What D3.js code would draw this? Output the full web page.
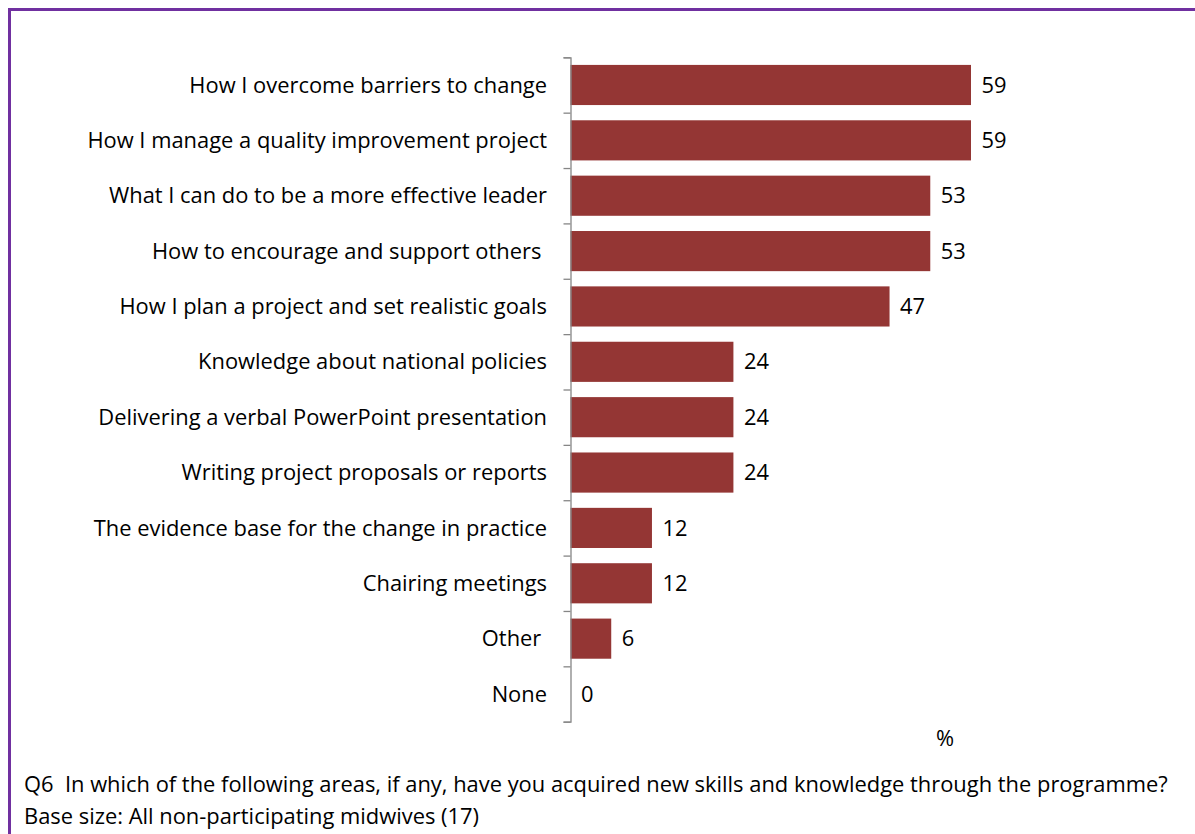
<!DOCTYPE html>
<html>
<head>
<meta charset="utf-8">
<script src="https://cdn.jsdelivr.net/npm/d3@7"></script>
<style>
  html, body { margin: 0; padding: 0; background: #fff; }
  svg { display: block; }
  text { font-family: "Open Sans", Lato, sans-serif; fill: #000; }
</style>
</head>
<body>
<svg id="chart" width="1195" height="834"></svg>
<script>
// Skills acquired through the programme (% of respondents)
const categories = [
  "How I overcome barriers to change",
  "How I manage a quality improvement project",
  "What I can do to be a more effective leader",
  "How to encourage and support others ",
  "How I plan a project and set realistic goals",
  "Knowledge about national policies",
  "Delivering a verbal PowerPoint presentation",
  "Writing project proposals or reports",
  "The evidence base for the change in practice",
  "Chairing meetings",
  "Other ",
  "None"
];
const values = [59, 59, 53, 53, 47, 24, 24, 24, 12, 12, 6, 0];
const unitLabel = "%";
const footnotes = [
  "Q6  In which of the following areas, if any, have you acquired new skills and knowledge through the programme?",
  "Base size: All non-participating midwives (17)"
];

const svg = d3.select("#chart");
const barColor = "#943634";
const axisColor = "#868686";
const fontSize = 21.9;

// Purple frame (top and left edges visible, continuing off the canvas)
svg.append("rect")
  .attr("x", 9.5).attr("y", 9.5)
  .attr("width", 1300).attr("height", 1000)
  .attr("fill", "none")
  .attr("stroke", "#7030a0")
  .attr("stroke-width", 3);

const x0 = 570.5;
const plotTop = 57.3, plotBottom = 721.7;

const x = d3.scaleLinear().domain([0, 59]).range([x0, 971]);
const y = d3.scaleBand()
  .domain(categories)
  .range([plotTop, plotBottom])
  .paddingInner(0.275)
  .paddingOuter(0.1375);

// Tick marks sit on category boundaries
const yEdges = d3.scaleLinear().domain([0, categories.length]).range([plotTop, plotBottom]);

const g = svg.append("g");

g.selectAll("rect.bar")
  .data(values)
  .join("rect")
  .attr("class", "bar")
  .attr("x", x(0))
  .attr("y", (d, i) => y(categories[i]))
  .attr("width", d => x(d) - x(0))
  .attr("height", y.bandwidth())
  .attr("fill", barColor);

const axis = g.append("g")
  .attr("transform", `translate(${x0},0)`)
  .call(d3.axisLeft(yEdges)
    .tickValues(d3.range(categories.length + 1))
    .tickSize(7)
    .tickFormat(""));
axis.select(".domain").attr("stroke", axisColor).attr("stroke-width", 1.3);
axis.selectAll(".tick line").attr("stroke", axisColor).attr("stroke-width", 1.3);

// Category labels
g.selectAll("text.cat")
  .data(categories)
  .join("text")
  .attr("class", "cat")
  .attr("x", 547)
  .attr("y", d => y(d) + y.bandwidth() / 2)
  .attr("dy", "0.35em")
  .attr("text-anchor", "end")
  .attr("font-size", fontSize)
  .style("white-space", "pre")
  .text(d => d);

// Value labels
g.selectAll("text.val")
  .data(values)
  .join("text")
  .attr("class", "val")
  .attr("x", d => x(d) + 10.5)
  .attr("y", (d, i) => y(categories[i]) + y.bandwidth() / 2)
  .attr("dy", "0.35em")
  .attr("font-size", fontSize)
  .text(d => d);

svg.append("text")
  .attr("x", 945).attr("y", 738)
  .attr("dy", "0.35em")
  .attr("text-anchor", "middle")
  .attr("font-size", fontSize)
  .text(unitLabel);

svg.selectAll("text.foot")
  .data(footnotes)
  .join("text")
  .attr("class", "foot")
  .attr("x", 24)
  .attr("y", (d, i) => 792 + i * 32)
  .attr("font-size", fontSize)
  .style("white-space", "pre")
  .text(d => d);
</script>
</body>
</html>
